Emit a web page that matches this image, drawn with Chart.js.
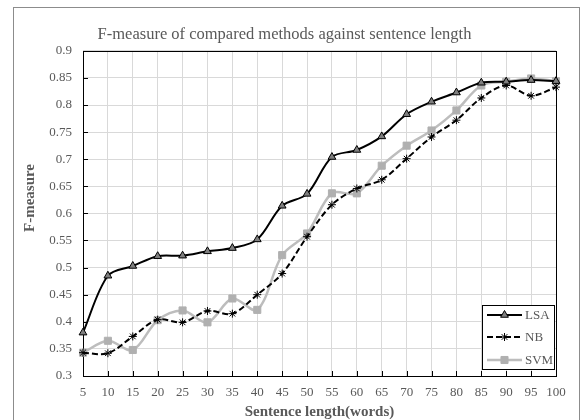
<!DOCTYPE html>
<html><head><meta charset="utf-8">
<script src="https://cdn.jsdelivr.net/npm/chart.js@4/dist/chart.umd.min.js"></script>
<style>html,body{margin:0;padding:0;background:#fff;}canvas{display:block;}</style>
</head><body>
<canvas id="c" width="582" height="420"></canvas>
<script>
const categories = ['5','10','15','20','25','30','35','40','45','50','55','60','65','70','75','80','85','90','95','100'];
const lsaValues = [0.380,0.485,0.503,0.521,0.522,0.530,0.536,0.552,0.614,0.636,0.704,0.717,0.742,0.783,0.806,0.823,0.841,0.843,0.846,0.844];
const nbValues  = [0.343,0.342,0.373,0.404,0.399,0.420,0.415,0.450,0.489,0.557,0.616,0.646,0.662,0.701,0.741,0.772,0.813,0.836,0.817,0.833];
const svmValues = [0.343,0.365,0.348,0.403,0.421,0.399,0.443,0.422,0.523,0.563,0.637,0.637,0.688,0.725,0.753,0.790,0.836,0.843,0.849,0.844];
const seriesNames = ['LSA','NB','SVM'];
const yMin = 0.3, yMax = 0.9, yStep = 0.05;
const chartTitle = 'F-measure of compared methods against sentence length';
const xTitle = 'Sentence length(words)';
const yTitle = 'F-measure';

const FONT = "'Liberation Serif', 'Times New Roman', serif";
const TXT = '#595959';

const framePlugin = {
  id: 'frame',
  beforeDraw(chart) {
    const ctx = chart.ctx;
    ctx.save();
    ctx.fillStyle = '#fff';
    ctx.fillRect(0, 0, chart.width, chart.height);
    ctx.restore();
  },
  beforeDatasetsDraw(chart) {
    const {ctx, chartArea: a, scales} = chart;
    ctx.save();
    ctx.strokeStyle = '#000';
    ctx.lineWidth = 1;
    ctx.strokeRect(Math.round(a.left) + 0.5, Math.round(a.top) + 0.5, Math.round(a.right - a.left), Math.round(a.bottom - a.top));
    ctx.beginPath();
    scales.x.ticks.forEach((t, i) => {
      const x = Math.round(scales.x.getPixelForTick(i)) + 0.5;
      ctx.moveTo(x, a.bottom); ctx.lineTo(x, a.bottom - 5);
    });
    scales.y.ticks.forEach((t, i) => {
      const y = Math.round(scales.y.getPixelForTick(i)) + 0.5;
      ctx.moveTo(a.left, y); ctx.lineTo(a.left + 5, y);
    });
    ctx.stroke();
    ctx.restore();
  },
  afterDraw(chart) {
    const {ctx, chartArea: a} = chart;
    ctx.save();
    // outer chart border
    ctx.strokeStyle = '#8c8c8c';
    ctx.lineWidth = 1;
    ctx.strokeRect(13.5, 7.5, 566, 440);
    // y axis title
    ctx.save();
    ctx.translate(30, 198);
    ctx.rotate(-Math.PI / 2);
    ctx.fillStyle = TXT;
    ctx.font = 'bold 15px ' + FONT;
    ctx.textAlign = 'center';
    ctx.textBaseline = 'middle';
    ctx.fillText(yTitle, 0, 0);
    ctx.restore();
    // legend
    const bw = 72, bh = 64;
    const bx = Math.round(a.right - 2 - bw), by = Math.round(a.bottom - 7 - bh);
    ctx.fillStyle = '#fff';
    ctx.fillRect(bx, by, bw, bh);
    ctx.strokeStyle = '#000';
    ctx.strokeRect(bx + 0.5, by + 0.5, bw, bh);
    const rows = [10, 32, 55];
    chart.data.datasets.forEach((ds, i) => {
      const y = by + rows[i];
      ctx.save();
      ctx.strokeStyle = ds.borderColor;
      ctx.lineWidth = ds.borderWidth;
      ctx.setLineDash(ds.borderDash || []);
      ctx.beginPath();
      ctx.moveTo(bx + 5, y); ctx.lineTo(bx + 40, y);
      ctx.stroke();
      ctx.setLineDash([]);
      ctx.fillStyle = ds.pointBackgroundColor;
      ctx.strokeStyle = ds.pointBorderColor;
      ctx.lineWidth = ds.pointBorderWidth;
      Chart.helpers.drawPoint(ctx, {pointStyle: ds.pointStyle, radius: ds.pointRadius, rotation: 0, borderWidth: ds.pointBorderWidth}, bx + 22.5, y);
      ctx.restore();
      ctx.fillStyle = TXT;
      ctx.font = '13px ' + FONT;
      ctx.textBaseline = 'middle';
      ctx.textAlign = 'left';
      ctx.fillText(ds.label, bx + 43, y + 1);
    });
    ctx.restore();
  }
};

new Chart(document.getElementById('c'), {
  type: 'line',
  data: {
    labels: categories,
    datasets: [
      {label: seriesNames[0], data: lsaValues, borderColor: '#000', borderWidth: 2, tension: 0.33,
       pointStyle: 'triangle', pointRadius: 4.5, pointBackgroundColor: '#7f7f7f', pointBorderColor: '#000', pointBorderWidth: 1},
      {label: seriesNames[1], data: nbValues, borderColor: '#000', borderWidth: 2, borderDash: [6, 3], tension: 0.33,
       pointStyle: 'star', pointRadius: 4, pointBackgroundColor: '#000', pointBorderColor: '#000', pointBorderWidth: 1},
      {label: seriesNames[2], data: svmValues, borderColor: '#bdbdbd', borderWidth: 2.5, tension: 0.33,
       pointStyle: 'rect', pointRadius: 5, pointBackgroundColor: '#b0b0b0', pointBorderColor: '#b0b0b0', pointBorderWidth: 1}
    ]
  },
  options: {
    responsive: false,
    animation: false,
    devicePixelRatio: 1,
    layout: {padding: {left: 13, right: 26, top: 7, bottom: 0}},
    plugins: {
      legend: {display: false},
      tooltip: {enabled: false},
      title: {display: true, text: chartTitle, color: TXT, font: {family: FONT, size: 16.5, weight: 'normal', lineHeight: 1.2}, padding: {top: 18, bottom: 6}}
    },
    scales: {
      x: {
        offset: false,
        grid: {color: '#d9d9d9', drawTicks: false},
        border: {display: false},
        ticks: {color: TXT, font: {family: FONT, size: 13}, padding: 9, maxRotation: 0, autoSkip: false},
        title: {display: true, text: xTitle, color: TXT, font: {family: FONT, size: 15, weight: 'bold', lineHeight: 1}, padding: {top: 0, bottom: 0}},
        afterFit(s) { s.height = 44; }
      },
      y: {
        min: yMin, max: yMax,
        grid: {color: '#d9d9d9', drawTicks: false},
        border: {display: false},
        ticks: {stepSize: yStep, color: TXT, font: {family: FONT, size: 13}, padding: 11,
                callback: v => String(parseFloat(v.toFixed(2)))},
        title: {display: false},
        afterFit(s) { s.width = 70; }
      }
    }
  },
  plugins: [framePlugin]
});
</script>
</body></html>
